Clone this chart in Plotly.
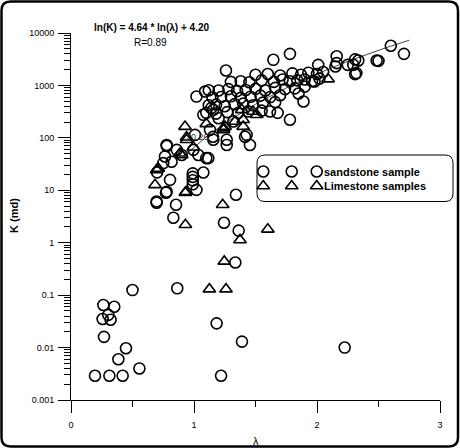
import numpy as np
import plotly.graph_objects as go

# ---------------- data ----------------
sand_lambda = [
    0.50, 0.864, 0.263, 0.352, 0.303, 0.257, 0.322, 1.184, 0.268, 1.39, 2.225, 0.447, 0.385, 0.556,
    0.195, 0.312, 0.42, 1.22,
    1.341, 1.244, 1.363, 1.336, 0.696, 0.854, 0.832, 0.772, 0.805, 1.02, 1.076, 0.99, 0.99, 0.99, 0.99,
    0.70, 0.75, 0.778, 0.86, 0.995, 1.035, 1.10, 0.764, 0.818, 1.008, 0.778, 0.696, 0.778, 0.90, 1.116,
    1.645, 1.78, 1.26, 1.09, 1.02, 1.78, 1.89, 2.485, 2.707, 2.60, 2.336, 2.295, 2.16, 2.32, 1.157,
    1.618, 1.13, 1.428, 1.455, 1.266, 1.32, 1.155, 1.14, 1.076, 1.20, 1.157, 1.266, 1.415,
    2.25, 2.16, 2.15, 2.01, 1.98, 2.31, 2.31, 2.50,
    1.50, 1.60, 1.70, 1.80, 1.87, 1.93, 2.00, 2.05,
    1.30, 1.38, 1.45, 1.55, 1.65, 1.72, 1.78, 1.84, 1.90, 1.96, 2.02,
    1.12, 1.20, 1.28, 1.35, 1.42, 1.50, 1.58, 1.66, 1.74, 1.82, 1.90,
    1.15, 1.22, 1.30, 1.38, 1.46, 1.54, 1.62, 1.70, 1.85,
    1.12, 1.18, 1.25, 1.33, 1.40, 1.48, 1.56, 1.66,
    1.10, 1.18, 1.27, 1.36, 1.44, 1.55, 1.68,
]
sand_K = [
    0.125, 0.135, 0.065, 0.060, 0.042, 0.035, 0.034, 0.029, 0.016, 0.013, 0.010, 0.0097, 0.006, 0.004,
    0.0029, 0.0029, 0.0029, 0.0029,
    8.2, 2.4, 1.7, 0.42, 5.8, 5.3, 3.0, 9.0, 15.8, 10.2, 21.8, 13, 15.5, 18, 21,
    22, 33, 73, 59, 59, 47, 41, 44, 35, 114, 9.4, 6.1, 70, 47, 41,
    3080, 4000, 1930, 766, 613, 221, 493, 2990, 4000, 5700, 2990, 2470, 2660, 1720, 342,
    318, 142, 114, 73, 92, 205, 105, 369, 275, 237, 92, 73, 105,
    2470, 3600, 2300, 2470, 1190, 3140, 1640, 2940,
    1600, 1650, 1550, 1700, 1600, 1750, 1650, 1800,
    1170, 1200, 1150, 1250, 1170, 1300, 1200, 1250, 1300, 1200, 1350,
    810, 800, 850, 780, 820, 860, 800, 900, 850, 880, 950,
    590, 600, 620, 580, 610, 640, 600, 650, 700,
    420, 430, 400, 440, 450, 420, 470, 480,
    300, 290, 310, 300, 320, 330, 300,
]
lime_lambda = [
    1.125, 1.26, 0.93, 1.233, 0.93, 1.60, 1.374, 1.246, 0.696, 0.683, 0.927, 1.10, 0.94, 0.886, 0.71,
    0.935, 2.09, 1.51, 1.40, 1.24, 1.24, 1.333, 1.388, 0.995, 0.90, 1.48, 0.94, 1.252, 1.40,
]
lime_K = [
    0.13, 0.13, 9.0, 5.3, 2.2, 1.8, 1.13, 0.44, 24.5, 12.7, 164, 185, 103, 51, 26,
    9.4, 1320, 275, 221, 142, 153, 205, 342, 66, 47, 318, 92, 164, 164,
]

fit_slope = 4.64
fit_intercept = 4.20
fit_range = [0.95, 2.75]

x_ticks = [0, 1, 2, 3]
y_ticks = [0.001, 0.01, 0.1, 1, 10, 100, 1000, 10000]
y_ticktext = ["0.001", "0.01", "0.1", "1", "10", "100", "1000", "10000"]

# ---------------- layout helpers ----------------
W, H = 460, 448
L, R, T, B = 71, 20, 33, 48
PW, PH = W - L - R, H - T - B


def px(xp):
    return (xp - L) / PW


def py(yp):
    return (H - B - yp) / PH


def rrect(x0, y0, x1, y1, r):
    # rounded rectangle in pixel coords -> paper path
    pts = []
    pts.append(f"M {px(x0 + r)},{py(y0)}")
    pts.append(f"L {px(x1 - r)},{py(y0)}")
    pts.append(f"Q {px(x1)},{py(y0)} {px(x1)},{py(y0 + r)}")
    pts.append(f"L {px(x1)},{py(y1 - r)}")
    pts.append(f"Q {px(x1)},{py(y1)} {px(x1 - r)},{py(y1)}")
    pts.append(f"L {px(x0 + r)},{py(y1)}")
    pts.append(f"Q {px(x0)},{py(y1)} {px(x0)},{py(y1 - r)}")
    pts.append(f"L {px(x0)},{py(y0 + r)}")
    pts.append(f"Q {px(x0)},{py(y0)} {px(x0 + r)},{py(y0)} Z")
    return " ".join(pts)


FONT = "Liberation Sans, Arial, sans-serif"
MS = 11

fig = go.Figure()

lam_fit = np.linspace(fit_range[0], fit_range[1], 60)
K_fit = np.exp(fit_slope * np.log(lam_fit) + fit_intercept)
fig.add_trace(go.Scatter(x=lam_fit, y=K_fit, mode="lines",
                         line=dict(color="#444444", width=1), hoverinfo="skip"))

fig.add_trace(go.Scatter(x=sand_lambda, y=sand_K, mode="markers", name="sandstone sample",
                         marker=dict(symbol="circle-open", size=MS, color="black",
                                     line=dict(width=1.6, color="black"))))
fig.add_trace(go.Scatter(x=lime_lambda, y=lime_K, mode="markers", name="Limestone samples",
                         marker=dict(symbol="triangle-up-open", size=MS, color="black",
                                     line=dict(width=1.6, color="black"))))

# custom legend glyphs on a hidden overlay axis (0..1 = plot area)
leg_x = [px(263.3), px(291.7), px(316.7)]
fig.add_trace(go.Scatter(x=leg_x, y=[py(171.5)] * 3, xaxis="x2", yaxis="y2", mode="markers",
                         marker=dict(symbol="circle-open", size=MS, color="black",
                                     line=dict(width=1.6, color="black")), hoverinfo="skip"))
fig.add_trace(go.Scatter(x=leg_x, y=[py(186)] * 3, xaxis="x2", yaxis="y2", mode="markers",
                         marker=dict(symbol="triangle-up-open", size=MS, color="black",
                                     line=dict(width=1.6, color="black")), hoverinfo="skip"))

fig.update_layout(
    width=W, height=H,
    margin=dict(l=L, r=R, t=T, b=B),
    plot_bgcolor="white", paper_bgcolor="white",
    showlegend=False,
    font=dict(family=FONT, size=9, color="black"),
    xaxis=dict(range=[0, 3], tickvals=x_ticks, ticks="outside", ticklen=12, tickwidth=1,
               tickcolor="black", showline=True, linecolor="black", linewidth=1,
               showgrid=False, zeroline=False, ticklabelstandoff=4,
               minor=dict(ticks="outside", ticklen=6, tickvals=[0.5, 1.5, 2.5], tickcolor="black",
                          showgrid=False)),
    yaxis=dict(type="log", range=[-3, 4], tickvals=y_ticks, ticktext=y_ticktext, ticks="outside",
               ticklen=12, tickwidth=1, tickcolor="black", showline=True, linecolor="black",
               linewidth=1, showgrid=False, zeroline=False, ticklabelstandoff=2,
               minor=dict(ticks="outside", ticklen=6, dtick="D1", tickcolor="black", showgrid=False)),
    xaxis2=dict(range=[0, 1], overlaying="x", visible=False),
    yaxis2=dict(range=[0, 1], overlaying="y", visible=False),
)

shapes = [
    dict(type="path", xref="paper", yref="paper", path=rrect(1.5, 1.5, 458, 446.5, 9),
         line=dict(color="black", width=2.5)),
    dict(type="path", xref="paper", yref="paper", path=rrect(257, 155, 453, 201.5, 8),
         line=dict(color="black", width=1), fillcolor="rgba(255,255,255,0)"),
]
fig.update_layout(shapes=shapes)

ann = [
    dict(x=px(151), y=py(28), text="<b>ln(K) = 4.64 * ln(λ) + 4.20</b>", font=dict(size=10)),
    dict(x=px(150), y=py(43), text="R=0.89", font=dict(size=10)),
    dict(x=px(255.5), y=py(441), text="λ", font=dict(size=11)),
    dict(x=px(14), y=py(216), text="<b>K (md)</b>", textangle=-90, font=dict(size=11)),
    dict(x=px(322), y=py(171.5), text="<b>sandstone sample</b>", xanchor="left", font=dict(size=11)),
    dict(x=px(322), y=py(185.5), text="<b>Limestone samples</b>", xanchor="left", font=dict(size=11)),
    dict(x=px(197), y=py(137), text="20.26", font=dict(size=9, color="#333333")),
]
for a in ann:
    a.setdefault("xref", "paper")
    a.setdefault("yref", "paper")
    a.setdefault("showarrow", False)
    a.setdefault("xanchor", "center")
    a.setdefault("yanchor", "middle")
fig.update_layout(annotations=ann)

fig.write_html("out.html")
